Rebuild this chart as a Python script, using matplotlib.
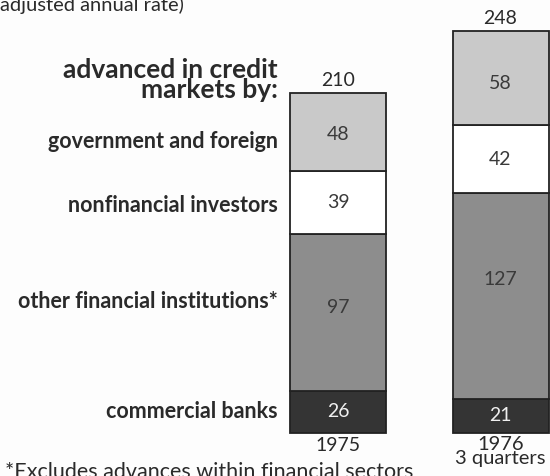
import matplotlib
matplotlib.use("Agg")
import matplotlib.pyplot as plt
import numpy as np

years = ["1975", "1976\n3 quarters"]
categories = ["commercial banks", "other financial institutions*",
              "nonfinancial investors", "government and foreign"]
banks = [26, 21]
other_fin = [97, 127]
nonfin = [39, 42]
gov_foreign = [48, 58]
totals = [210, 248]
series = [banks, other_fin, nonfin, gov_foreign]

colors = ["#343434", "#8d8d8d", "#ffffff", "#c9c9c9"]
text_colors = ["#f0f0f0", "#3a3a3a", "#3a3a3a", "#3a3a3a"]

W, H = 550, 476
fig = plt.figure(figsize=(5.5, 4.76), dpi=100)
fig.patch.set_facecolor("#fdfdfd")
ax = fig.add_axes([0, 0, 1, 1])
px_per_unit = 1.62
base_px = 433
ax.set_xlim(0, W)
ax.set_ylim(-(H - base_px) / px_per_unit, base_px / px_per_unit)
ax.axis("off")

font = "Lato"
xs = [338, 500.5]
bw = 96
bottoms = np.zeros(2)
label_offsets = [[0, 0], [3, 10], [0, 0], [-2, -3]]
for i, vals in enumerate(series):
    ax.bar(xs, vals, bw, bottom=bottoms, color=colors[i], edgecolor="#222222",
           linewidth=1.3, zorder=2)
    for j in range(2):
        yc = bottoms[j] + vals[j] / 2 + label_offsets[i][j]
        ax.text(xs[j], yc, str(vals[j]), ha="center", va="center",
                fontsize=14, color=text_colors[i], family=font, zorder=3)
    bottoms += np.array(vals)

for j in range(2):
    ax.text(xs[j], totals[j] + 2.5, str(totals[j]), ha="center", va="bottom",
            fontsize=14, color="#2a2a2a", family=font)

ax.text(xs[0], -2.5, years[0], ha="center", va="top", fontsize=14,
        color="#2a2a2a", family=font)
ax.text(xs[1], -2, years[1], ha="center", va="top", fontsize=14.5,
        color="#2a2a2a", family=font, linespacing=0.75)

def fy(p):
    return 1 - p / H

fig.text(278 / W, fy(80), "advanced in credit\nmarkets by:", ha="right",
         va="center", fontsize=19, fontweight="bold", color="#2a2a2a",
         family=font, linespacing=0.82)
label_y = [411, 301, 205, 142]
for cat, y in zip(categories, label_y):
    fig.text(278 / W, fy(y), cat, ha="right", va="center", fontsize=15.5,
             fontweight="bold", color="#2a2a2a", family=font)

fig.text(0 / W, fy(11), "adjusted annual rate)", ha="left", va="baseline",
         fontsize=14.5, color="#2a2a2a", family=font)
fig.text(5 / W, fy(478), "*Excludes advances within financial sectors",
         ha="left", va="baseline", fontsize=15.5, color="#2a2a2a", family=font)

fig.savefig("out.png", dpi=100, facecolor=fig.get_facecolor())
